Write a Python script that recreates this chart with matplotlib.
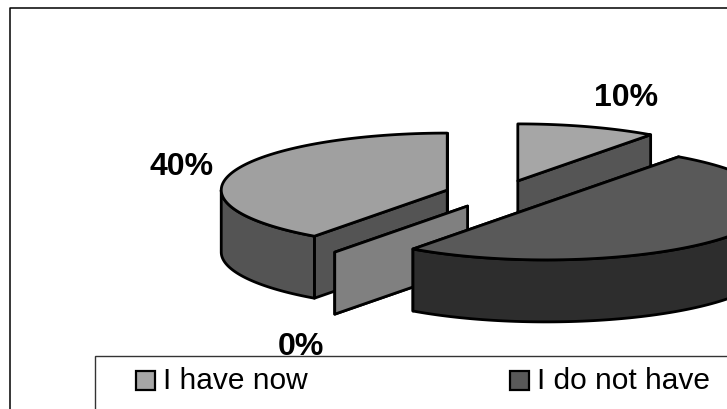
import numpy as np
import matplotlib
matplotlib.use('Agg')
import matplotlib.pyplot as plt
from matplotlib.patches import Polygon, Rectangle

# Pie shares, clockwise from 12 o'clock
shares = [10, 50, 0, 40]
top_colors = ['#a6a6a6', '#595959', '#808080', '#a0a0a0']
side_colors = ['#555555', '#2d2d2d', '#808080', '#545454']
legend_labels = ['I have now', 'I do not have']
legend_colors = ['#a6a6a6', '#595959']
draw_order = [0, 3, 2, 1]

# Pie geometry in pixels
center_x, center_y = 500.5, 194.5
radius_x, radius_y = 226, 57
depth = 62
explode = 56
explode_y = 14.3
line_w = 2.0


def rim(cx, cy, a0, a1, n=90):
    """Points on the ellipse between two clockwise angles (degrees from top)"""
    t = np.radians(np.linspace(a0, a1, n))
    return np.column_stack([cx + radius_x * np.sin(t), cy - radius_y * np.cos(t)])


def draw_slice(ax, a0, a1, top, side):
    mid = np.radians((a0 + a1) / 2)
    cx = center_x + explode * np.sin(mid)
    cy = center_y - explode_y * np.cos(mid)
    apex = np.array([cx, cy])
    drop = np.array([0, depth])

    # Cut faces first, the top and the rim go over them
    for a in (a0, a1):
        edge = rim(cx, cy, a, a, 1)[0]
        ax.add_patch(Polygon([apex, edge, edge + drop, apex + drop], closed=True,
                             fc=side, ec='black', lw=line_w, joinstyle='round'))

    # Outer wall, only the front half of the ellipse shows
    w0, w1 = max(a0, 90), min(a1, 270)
    if w1 > w0:
        arc = rim(cx, cy, w0, w1)
        ax.add_patch(Polygon(np.vstack([arc, (arc + drop)[::-1]]), closed=True,
                             fc=side, ec='black', lw=line_w, joinstyle='round'))

    if a1 > a0:
        ax.add_patch(Polygon(np.vstack([apex, rim(cx, cy, a0, a1)]), closed=True,
                             fc=top, ec='black', lw=line_w, joinstyle='round'))


fig = plt.figure(figsize=(7.27, 4.09), dpi=100)
ax = fig.add_axes([0, 0, 1, 1])
ax.set_xlim(0, 727)
ax.set_ylim(409, 0)
ax.axis('off')

# Chart frame
ax.plot([10, 10, 727], [409, 8, 8], color='black', lw=1.1)

bounds = np.cumsum([0] + shares) * 3.6
for i in draw_order:
    draw_slice(ax, bounds[i], bounds[i + 1], top_colors[i], side_colors[i])

font = ['Liberation Sans', 'DejaVu Sans']
ax.text(181.5, 167, f'{shares[3]}%', family=font, weight='bold', fontsize=23, ha='center', va='center')
ax.text(626, 97.5, f'{shares[0]}%', family=font, weight='bold', fontsize=23, ha='center', va='center')
ax.text(301, 347, f'{shares[2]}%', family=font, weight='bold', fontsize=23, ha='center', va='center')

# Legend box sits over the lower label
ax.add_patch(Rectangle((95, 356), 640, 60, fc='white', ec='#333333', lw=1.0, zorder=5))
for x, label, color in zip([136, 510], legend_labels, legend_colors):
    ax.add_patch(Rectangle((x, 371), 18.5, 19, fc=color, ec='black', lw=1.6, zorder=7))
    ax.text(x + 27, 381, label, family=font, fontsize=21.5, va='center', zorder=7)

fig.savefig('out.png', dpi=100)
